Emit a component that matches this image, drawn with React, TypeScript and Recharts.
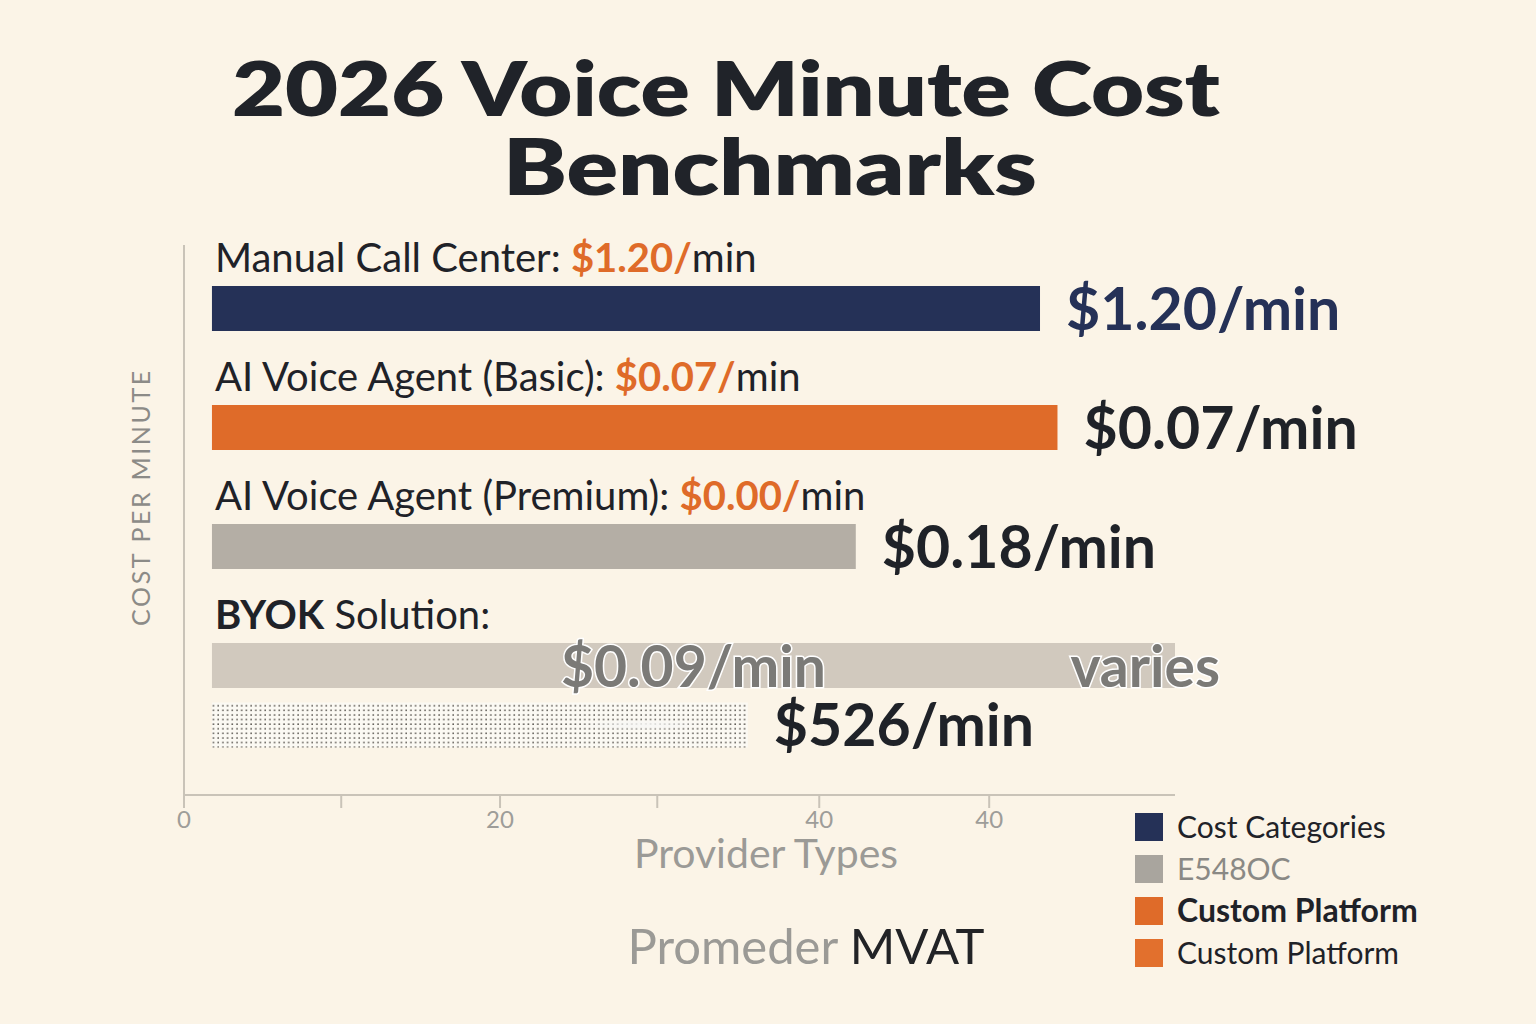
import React from "react";
import { BarChart, Bar, XAxis, YAxis } from "recharts";

// rows, top to bottom
const providers = [
  "Manual Call Center",
  "AI Voice Agent (Basic)",
  "AI Voice Agent (Premium)",
  "BYOK Solution",
  "BYOK Solution (own keys)",
];
const barStart = [1.76, 1.76, 1.76, 1.76, 1.76];
const barEnd = [53.9, 55.0, 42.3, 62.4, 35.5];

// heading above each bar
const headBold = ["", "", "", "BYOK", ""];
const headText = ["Manual Call Center: ", "AI Voice Agent (Basic): ", "AI Voice Agent (Premium): ", " Solution:", ""];
const headPrice = ["$1.20/", "$0.07/", "$0.00/", "", ""];

// value labels
const endLabels = ["$1.20/min", "$0.07/min", "$0.18/min", "varies", "$526/min"];
const innerLabels = ["", "", "", "$0.09/min", ""];

const xTicks = [0, 9.9, 19.9, 29.8, 40, 50.7];
const xTickLabels = ["0", "", "20", "", "40", "40"];

const legendLabels = ["Cost Categories", "E548OC", "Custom Platform", "Custom Platform"];

// styles
const BG = "#fbf4e7";
const NAVY = "#253157";
const ORANGE = "#df6b29";
const DARK = "#1f2228";
const AXIS = "#c9c3b8";
const barFills = [NAVY, ORANGE, "#b4aea5", "#d1c9be", "url(#dots)"];
const endColors = [NAVY, DARK, DARK, "#7b7a77", DARK];
const legendColors = [NAVY, "#a9a59e", ORANGE, "#e2702d"];
const legendText = [DARK, "#8a8985", DARK, DARK];
const legendWeight = [400, 400, 700, 400];
const legendSize = [30, 30, 32, 30];
const FONT = "Lato, 'Open Sans', sans-serif";

// spacer rows keep the uneven gaps between groups
const table: any[] = [];
providers.forEach((name, i) => {
  table.push({ key: "p" + i, name, row: i, span: [barStart[i], barEnd[i]] });
  if (i < 3) table.push({ key: "gap" + i, name: "", row: -1, span: null });
});

const XTick = (props: any) => {
  const { x, y, index } = props;
  return (
    <text x={x} y={Number(y) + 18} textAnchor="middle" fontSize={24} fill="#9e9d99" fontFamily={FONT}>
      {xTickLabels[index]}
    </text>
  );
};

const RowBar = (props: any) => {
  const { x, y, width, height, payload } = props;
  const i = payload ? payload.row : -1;
  if (i == null || i < 0 || x == null) return null;
  const left = Number(x);
  const top = Number(y);
  const w = Number(width);
  const h = Number(height);
  const cy = top + h / 2;
  const outlined = innerLabels[i] !== "";
  return (
    <g fontFamily={FONT}>
      <rect x={left} y={top} width={w} height={h} fill={barFills[i]} />
      {i === 4 && <rect x={left} y={top} width={w} height={h} fill="url(#fade)" />}
      {(headText[i] || headBold[i]) && (
        <text x={left + 3} y={top - 14} fontSize={40} fill={DARK}>
          {headBold[i] && <tspan fontWeight={700}>{headBold[i]}</tspan>}
          {headText[i]}
          {headPrice[i] && (
            <tspan fill={ORANGE} fontWeight={700}>
              {headPrice[i]}
            </tspan>
          )}
          {headPrice[i] && "min"}
        </text>
      )}
      {outlined ? (
        <g fontSize={57} fontWeight={700} fill={endColors[i]} stroke="#ffffff" strokeWidth={3} paintOrder="stroke">
          <text x={left + w / 2} y={cy + 21} textAnchor="middle">
            {innerLabels[i]}
          </text>
          <text x={left + w + 45} y={cy + 21} textAnchor="end">
            {endLabels[i]}
          </text>
        </g>
      ) : (
        <text x={left + w + 26} y={cy + 21} fontSize={59} fontWeight={700} fill={endColors[i]}>
          {endLabels[i]}
        </text>
      )}
    </g>
  );
};

export default function App() {
  return (
    <div style={{ position: "fixed", left: 0, top: 0, width: 1536, height: 1024, background: BG, overflow: "hidden" }}>
      <svg width={0} height={0} style={{ position: "absolute" }}>
        <defs>
          <pattern id="dots" width={4.7} height={4.6} patternUnits="userSpaceOnUse">
            <rect width={4.7} height={4.6} fill="#fbf9f3" />
            <circle cx={2} cy={2} r={0.75} fill="#2f2a24" />
          </pattern>
          <radialGradient id="fade" cx="0.8" cy="0.5" r="0.12" fx="0.81" fy="0.5">
            <stop offset="0" stopColor="#f7f7f5" stopOpacity={0.95} />
            <stop offset="0.5" stopColor="#f7f7f5" stopOpacity={0.6} />
            <stop offset="1" stopColor="#f7f7f5" stopOpacity={0} />
          </radialGradient>
        </defs>
      </svg>
      <div style={{ position: "absolute", left: 0, top: 0 }}>
        <BarChart
          width={1536}
          height={1024}
          data={table}
          layout="vertical"
          margin={{ top: 245, right: 361, bottom: 228, left: 183 }}
          barSize={45}
        >
          <XAxis
            type="number"
            domain={[0, 62.4]}
            ticks={xTicks}
            interval={0}
            height={1}
            tick={<XTick />}
            tickSize={13}
            tickLine={{ stroke: AXIS, strokeWidth: 2 }}
            axisLine={{ stroke: AXIS, strokeWidth: 2 }}
          />
          <YAxis
            type="category"
            dataKey="key"
            width={1}
            tick={false}
            tickLine={false}
            axisLine={{ stroke: AXIS, strokeWidth: 2 }}
            padding={{ top: 34, bottom: 40 }}
          />
          <Bar dataKey="span" isAnimationActive={false} shape={(p: any) => <RowBar {...p} />} />
        </BarChart>
      </div>
      <svg width={1536} height={1024} style={{ position: "absolute", left: 0, top: 0, pointerEvents: "none" }} fontFamily={FONT}>
        <text x={726} y={116} textAnchor="middle" fontSize={76} fontWeight={800} fill="#202329" textLength={988} lengthAdjust="spacingAndGlyphs">
          2026 Voice Minute Cost
        </text>
        <text x={770} y={195} textAnchor="middle" fontSize={78} fontWeight={800} fill="#202329" textLength={534} lengthAdjust="spacingAndGlyphs">
          Benchmarks
        </text>
        <text
          x={140}
          y={497}
          transform="rotate(-90 140 497)"
          textAnchor="middle"
          dominantBaseline="central"
          fontSize={25}
          letterSpacing={2.6}
          fill="#8c8b87"
        >
          COST PER MINUTE
        </text>
        <text x={766} y={868} textAnchor="middle" fontSize={41} fill="#9b9a96">
          Provider Types
        </text>
        <text x={806} y={964} textAnchor="middle" fontSize={49}>
          <tspan fill="#9b9a96">Promeder</tspan>
          <tspan fill="#222326"> MVAT</tspan>
        </text>
        {legendLabels.map((label, i) => (
          <g key={i}>
            <rect x={1135} y={813 + i * 42} width={28} height={28} fill={legendColors[i]} />
            <text x={1177} y={838 + i * 42} fontSize={legendSize[i]} fill={legendText[i]} fontWeight={legendWeight[i]}>
              {label}
            </text>
          </g>
        ))}
      </svg>
    </div>
  );
}
